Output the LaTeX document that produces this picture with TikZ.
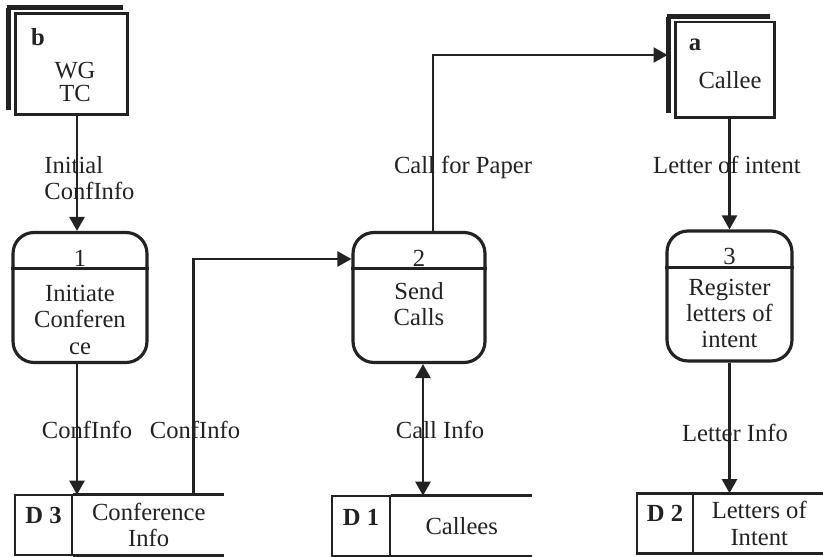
\documentclass[tikz,border=0pt]{standalone}
\usepackage{fontspec}
\setmainfont{Liberation Serif}
\usetikzlibrary{positioning,arrows.meta,calc}
\definecolor{dfdink}{RGB}{34,34,34}
\tikzset{
  proc/.style={draw=dfdink, line width=1.8pt, rounded corners=0.42cm, minimum width=2.64cm, minimum height=2.6cm},
  ent/.style={draw=dfdink, line width=1.7pt},
  shadowline/.style={dfdink, line width=2.8pt},
  cell/.style={draw=dfdink, line width=1.6pt, minimum height=1.2cm},
  txt/.style={font=\fontsize{14}{15}\selectfont, align=center, text=dfdink, inner sep=0pt},
  idtxt/.style={txt, font=\fontsize{14}{15}\selectfont\bfseries},
  slot/.style={txt, minimum height=1.2cm},
  flow/.style={-{Triangle[length=2.8mm, width=3mm]}, line width=1.4pt, dfdink},
  twoway/.style={flow, {Triangle[length=2.8mm, width=3mm]}-{Triangle[length=2.8mm, width=3mm]}}
}

\begin{document}
\begin{tikzpicture}[x=0.02cm, y=-0.02cm]
        \useasboundingbox (0,0) rectangle (823,557);
        % external entities
        \node[ent, minimum width=2.26cm, minimum height=2.04cm] (eb) at (71.5,64) {};
        \node[ent, minimum width=2cm, minimum height=1.92cm] (ea) at (725,70) {};
        \foreach \e in {eb,ea}{
          \draw[shadowline] ($(\e.north west)+(-7,-4)$) -- ($(\e.north east)+(-6,-4)$);
          \draw[shadowline] ($(\e.north west)+(-5,-4)$) -- ($(\e.south west)+(-5,-6)$);
        }
        \node[idtxt] at (38,37) {b};
        \node[txt] at (75,82) {WG\\[-2pt]TC};
        \node[idtxt] at (695,45) {a};
        \node[txt] at (730,80) {Callee};
        % processes
        \node[proc, minimum width=2.68cm] (p1) at (80,297.5) {};
        \node[proc] (p2) at (419,297.5) {};
        \node[proc, minimum width=2.5cm] (p3) at (729.5,296) {};
        \foreach \p in {p1,p2,p3}{\draw[ent] ($(\p.north west)+(0,38)$) -- ($(\p.north east)+(0,38)$);}
        \node[txt] at ($(p1.north)+(0,27)$) {1};
        \node[txt] at ($(p2.north)+(0,27)$) {2};
        \node[txt] at ($(p3.north)+(0,27)$) {3};
        \node[txt, anchor=north] at ($(p1.north)+(0,54)$) {Initiate\\Conferen\\ce};
        \node[txt, anchor=north] at ($(p2.north)+(0,51)$) {Send\\Calls};
        \node[txt, anchor=north] at ($(p3.north)+(0,49)$) {Register\\letters of\\intent};
        % data stores
        \node[cell, minimum width=1.14cm] (d3) at (43.5,525) {};
        \node[slot, minimum width=3cm, right=0pt of d3] (d3n) {Conference\\Info};
        \node[cell, minimum width=1.16cm] (d1) at (361,526) {};
        \node[slot, minimum width=2.8cm, right=0pt of d1] (d1n) {Callees};
        \node[cell, minimum width=1.12cm] (d2) at (665,523.5) {};
        \node[slot, minimum width=2.58cm, right=0pt of d2] (d2n) {Letters of\\Intent};
        \foreach \s in {d3n,d1n,d2n}{\draw[ent] (\s.north west) -- (\s.north east) (\s.south west) -- (\s.south east);}
        \node[idtxt] at ($(d3)+(0,-10)$) {D 3};
        \node[idtxt] at ($(d1)+(0,-9)$) {D 1};
        \node[idtxt] at ($(d2)+(0,-10)$) {D 2};
        % flows
        \coordinate (k1) at ($(eb.south)+(5.5,0)$);
        \coordinate (k2) at ($(p1.south)+(-3,0)$);
        \coordinate (k3) at ($(d3n.north west)+(120,0)$);
        \coordinate (k4) at ($(p2.west)+(0,-38.5)$);
        \coordinate (k5) at ($(p2.south)+(4,0)$);
        \coordinate (k6) at ($(p2.north)+(14,0)$);
        \coordinate (k7) at ($(ea.west)+(-6,-15)$);
        \draw[flow] (k1) -- (k1 |- p1.north);
        \draw[flow] (k2) -- (k2 |- d3n.north);
        \draw[flow] (k3) |- (k4);
        \draw[twoway] (k5) -- (k5 |- d1n.north);
        \draw[flow] (k6) |- (k7);
        \draw[flow] (ea.south -| p3.north) -- (p3.north);
        \draw[flow] (p3.south) -- (p3.south |- d2n.north);
        % flow labels
        \node[txt, anchor=west, align=left] (lbinit) at (44,178) {Initial\\ConfInfo};
        \node[txt] (lbconfa) at (87,430) {ConfInfo};
        \node[txt] (lbconfb) at (195,430) {ConfInfo};
        \node[txt] (lbcall) at (440,430) {Call Info};
        \node[txt] (lbpaper) at (463,167) {Call for Paper};
        \node[txt] (lbintent) at (727,165) {Letter of intent};
        \node[txt] (lbletter) at (735,433) {Letter Info};
      \end{tikzpicture}
\end{document}
